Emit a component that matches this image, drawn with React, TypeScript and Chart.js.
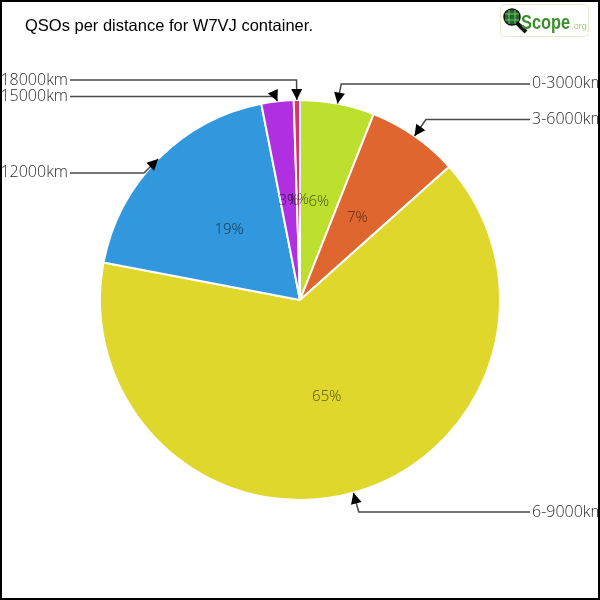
import { useEffect, useRef } from "react";
import { Chart, registerables } from "chart.js";
Chart.register(...registerables);

const categories = ["0-3000km", "3-6000km", "6-9000km", "9-12000km", "12-15000km", "15-18000km"];
const shares = [6.0, 7.4, 64.6, 18.9, 2.6, 0.5];
const sliceColors = ["#bde02f", "#e0662f", "#e0d72c", "#3198dd", "#b02fe0", "#e0306a"];
const calloutNudge = [0, 0, 0, 28, 15, 0];
const chartTitle = "QSOs per distance for W7VJ container.";

const overlayPlugin = {
  id: "overlay",
  afterDraw(chart: any) {
    const ctx = chart.ctx as CanvasRenderingContext2D;
    const meta = chart.getDatasetMeta(0);
    const total = shares.reduce((a, b) => a + b, 0);
    ctx.save();

    // percent labels
    ctx.font = '300 15px "Open Sans", "DejaVu Sans", sans-serif';
    ctx.textAlign = "center";
    ctx.textBaseline = "middle";
    ctx.fillStyle = "rgba(0,0,0,0.65)";
    meta.data.forEach((arc: any, i: number) => {
      const p = arc.getProps(["x", "y", "startAngle", "endAngle", "outerRadius"], true);
      const mid = (p.startAngle + p.endAngle) / 2;
      const r = p.outerRadius / 2;
      const txt = Math.round((shares[i] / total) * 100) + "%";
      ctx.fillText(txt, p.x + Math.cos(mid) * r, p.y + Math.sin(mid) * r);
    });

    // callouts
    meta.data.forEach((arc: any, i: number) => {
      const p = arc.getProps(["x", "y", "startAngle", "endAngle", "outerRadius"], true);
      const mid = (p.startAngle + p.endAngle) / 2;
      const R = 200;
      const tipX = p.x + Math.cos(mid) * R;
      const tipY = p.y + Math.sin(mid) * R;
      const elX = p.x + Math.cos(mid) * R * 1.1;
      const elY = p.y + Math.sin(mid) * R * 1.1 + calloutNudge[i];
      const right = Math.cos(mid) >= 0;
      const lineEnd = right ? 530 : 70;
      ctx.strokeStyle = "#4a4a4a";
      ctx.lineWidth = 1.5;
      ctx.beginPath();
      ctx.moveTo(lineEnd, elY);
      ctx.lineTo(elX, elY);
      ctx.lineTo(tipX, tipY);
      ctx.stroke();
      // arrowhead
      const ang = Math.atan2(tipY - elY, tipX - elX);
      const len = 11, half = 5.5;
      const bx = tipX - Math.cos(ang) * len;
      const by = tipY - Math.sin(ang) * len;
      ctx.fillStyle = "#000";
      ctx.beginPath();
      ctx.moveTo(tipX, tipY);
      ctx.lineTo(bx + Math.cos(ang + Math.PI / 2) * half, by + Math.sin(ang + Math.PI / 2) * half);
      ctx.lineTo(bx - Math.cos(ang + Math.PI / 2) * half, by - Math.sin(ang + Math.PI / 2) * half);
      ctx.closePath();
      ctx.fill();
      // label
      ctx.font = '300 16px "Open Sans", "Liberation Sans", sans-serif';
      ctx.fillStyle = "#2a2a2a";
      ctx.textBaseline = "middle";
      ctx.textAlign = right ? "left" : "right";
      ctx.fillText(categories[i], right ? 532 : 68, elY);
    });

    // title
    ctx.font = '16.5px "Liberation Sans", sans-serif';
    ctx.fillStyle = "#000";
    ctx.textAlign = "left";
    ctx.textBaseline = "alphabetic";
    ctx.fillText(chartTitle, 25, 31);

    // logo
    ctx.lineWidth = 1;
    ctx.strokeStyle = "#e4ebcc";
    ctx.fillStyle = "#fff";
    ctx.beginPath();
    (ctx as any).roundRect(500.5, 4.5, 88, 32, 4);
    ctx.fill();
    ctx.stroke();
    ctx.lineWidth = 4;
    ctx.strokeStyle = "#111";
    ctx.beginPath();
    ctx.moveTo(517, 23);
    ctx.lineTo(526, 32);
    ctx.stroke();
    ctx.fillStyle = "#1f6a2a";
    ctx.beginPath();
    ctx.arc(512, 17, 8, 0, Math.PI * 2);
    ctx.fill();
    ctx.lineWidth = 1.5;
    ctx.strokeStyle = "#111";
    ctx.stroke();
    ctx.strokeStyle = "#8fd07a";
    ctx.lineWidth = 0.8;
    ctx.beginPath();
    ctx.moveTo(505, 14); ctx.lineTo(519, 14);
    ctx.moveTo(505, 20); ctx.lineTo(519, 20);
    ctx.moveTo(509, 10); ctx.lineTo(509, 24);
    ctx.moveTo(515, 10); ctx.lineTo(515, 24);
    ctx.stroke();
    ctx.save();
    ctx.translate(521, 29);
    ctx.scale(0.78, 1);
    ctx.font = 'bold 21px "Liberation Sans", sans-serif';
    ctx.fillStyle = "#3b8f2c";
    ctx.fillText("Scope", 0, 0);
    const sw = ctx.measureText("Scope").width * 0.78;
    ctx.restore();
    ctx.font = '9px "Liberation Sans", sans-serif';
    ctx.fillStyle = "#a8c878";
    ctx.fillText(".org", 522 + sw, 29);

    // border
    ctx.lineWidth = 2;
    ctx.strokeStyle = "#000";
    ctx.strokeRect(1, 1, 598, 598);
    ctx.restore();
  },
};

export default function App() {
  const ref = useRef<HTMLCanvasElement>(null);
  useEffect(() => {
    if (!ref.current) return;
    const chart = new Chart(ref.current, {
      type: "pie",
      data: {
        labels: categories,
        datasets: [
          {
            data: shares,
            backgroundColor: sliceColors,
            borderColor: "#ffffff",
            borderWidth: 2,
          },
        ],
      },
      options: {
        responsive: false,
        animation: false,
        layout: { padding: { top: 99, bottom: 99, left: 99, right: 99 } },
        plugins: {
          legend: { display: false },
          title: { display: false },
          tooltip: { enabled: false },
        },
      },
      plugins: [overlayPlugin],
    });
    return () => chart.destroy();
  }, []);
  return (
    <div style={{ position: "absolute", left: 0, top: 0, width: 600, height: 600, background: "#fff" }}>
      <canvas ref={ref} width={600} height={600} />
    </div>
  );
}
